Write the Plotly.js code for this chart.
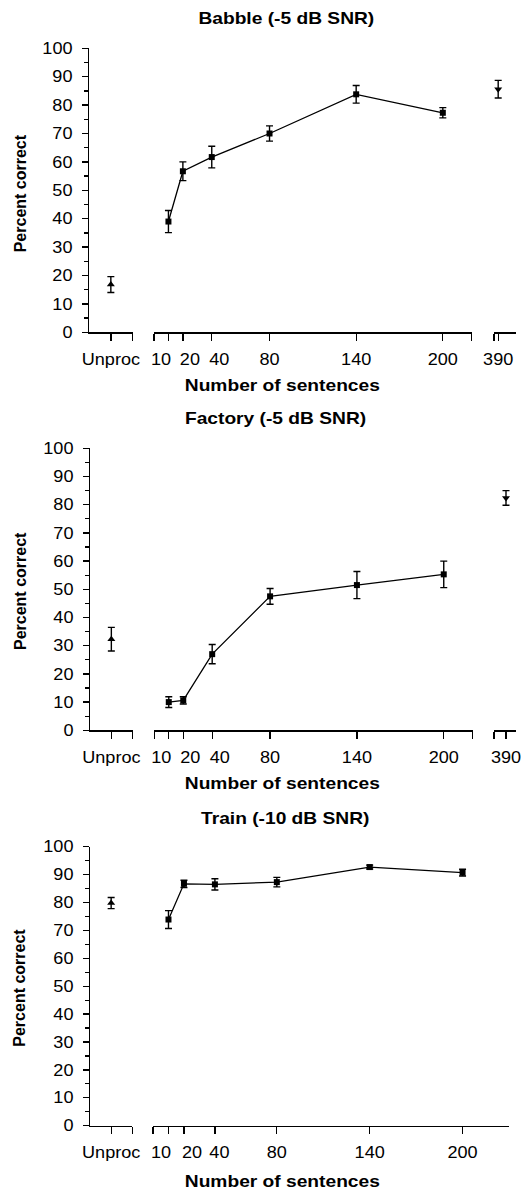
<!DOCTYPE html>
<html>
<head>
<meta charset="utf-8">
<script src="https://cdn.plot.ly/plotly-3.0.1.min.js"></script>
<style>
  html, body { margin: 0; padding: 0; background: #fff; }
  #chart { width: 521px; height: 1191px; }
</style>
</head>
<body>
<div id="chart"></div>
<script>
// ---------------- data ----------------
const panelTitles = ['Babble (-5 dB SNR)', 'Factory (-5 dB SNR)', 'Train (-10 dB SNR)'];
const xTitle = 'Number of sentences';
const yTitle = 'Percent correct';
const unprocLabel = ['Unproc'];
const unprocX = [1];
const sentences = [10, 20, 40, 80, 140, 200];
const sentenceLabels = ['10', '20', '40', '80', '140', '200'];
const fullX = [390];
const fullLabel = ['390'];

const babbleUnproc = [16.8];
const babbleUnprocErr = [2.8];
const babbleMean = [39.0, 56.7, 61.7, 70.0, 83.8, 77.3];
const babbleErr = [3.9, 3.3, 3.8, 2.7, 3.1, 1.8];
const babbleFull = [85.6];
const babbleFullErr = [3.1];

const factoryUnproc = [32.3];
const factoryUnprocErr = [4.2];
const factoryMean = [10.0, 10.6, 27.0, 47.5, 51.5, 55.3];
const factoryErr = [1.9, 1.3, 3.4, 2.8, 4.8, 4.7];
const factoryFull = [82.4];
const factoryFullErr = [2.6];

const trainUnproc = [79.8];
const trainUnprocErr = [2.0];
const trainMean = [73.9, 86.7, 86.5, 87.3, 92.7, 90.7];
const trainErr = [3.2, 1.3, 2.0, 1.7, 0.7, 1.2];

// ---------------- layout helpers ----------------
const W = 521, H = 1191;
const px = v => v / W;
const py = v => 1 - v / H;
const FONT = 'Liberation Sans, Arial, Helvetica, sans-serif';
const LW = 1.3;

function errObj(arr) {
  return { type: 'data', array: arr, visible: true, color: '#000', thickness: 1.4, width: 3.5 };
}

const traces = [];
const layout = {
  width: W, height: H,
  margin: { l: 0, r: 0, t: 0, b: 0 },
  paper_bgcolor: '#fff', plot_bgcolor: 'rgba(0,0,0,0)',
  showlegend: false,
  font: { family: FONT, size: 16, color: '#000' },
  annotations: []
};

function xAxisBase(domain, range, tickvals, ticktext, anchor) {
  return {
    domain: domain, range: range, anchor: anchor,
    showline: true, linecolor: '#000', linewidth: LW,
    ticks: 'outside', ticklen: 7, tickwidth: LW, tickcolor: '#000',
    tickmode: 'array', tickvals: tickvals, ticktext: ticktext, tickangle: 0,
    showgrid: false, zeroline: false, fixedrange: true,
    ticklabelstandoff: 5,
    tickfont: { family: FONT, size: 16, color: '#000' }
  };
}

const panels = [
  {
    unproc: babbleUnproc, unprocErr: babbleUnprocErr, mean: babbleMean, err: babbleErr,
    full: babbleFull, fullErr: babbleFullErr,
    yDom: [332.3, 48.3], xUn: [89, 132.7], xMain: [154, 471.7], mainRange: [0, 220], mainEndCap: true,
    xFull: [494, 516], fullRange: [386, 407],
    title: [286.5, 18], xt: [282.5, 385], yt: [20, 193.3]
  },
  {
    unproc: factoryUnproc, unprocErr: factoryUnprocErr, mean: factoryMean, err: factoryErr,
    full: factoryFull, fullErr: factoryFullErr,
    yDom: [730.3, 448.3], xUn: [90, 132.7], xMain: [154.3, 472.7], mainRange: [0, 220], mainEndCap: true,
    xFull: [494, 516], fullRange: [378, 400],
    title: [275.5, 418.3], xt: [282.5, 783.5], yt: [20, 591]
  },
  {
    unproc: trainUnproc, unprocErr: trainUnprocErr, mean: trainMean, err: trainErr,
    full: null, fullErr: null,
    yDom: [1125.7, 846.7], xUn: [90, 132.3], xMain: [153, 509], mainRange: [0, 230], mainEndCap: false,
    xFull: null, fullRange: null,
    title: [284.5, 818.3], xt: [282.5, 1181.7], yt: [20, 987.7]
  }
];

let xi = 1;
const labelShift = {}; // axis id -> {label: dx}
const axisIds = [];
panels.forEach((p, k) => {
  const yId = k === 0 ? 'y' : 'y' + (k + 1);
  const yKey = k === 0 ? 'yaxis' : 'yaxis' + (k + 1);
  const xu = 'x' + (xi === 1 ? '' : xi); const xuKey = 'xaxis' + (xi === 1 ? '' : xi); xi++;
  const xm = 'x' + xi; const xmKey = 'xaxis' + xi; xi++;
  let xf = null, xfKey = null;
  if (p.full) { xf = 'x' + xi; xfKey = 'xaxis' + xi; xi++; }

  layout[yKey] = {
    domain: [py(p.yDom[0]), py(p.yDom[1])], range: [0, 100], anchor: xu,
    showline: true, linecolor: '#000', linewidth: LW,
    ticks: 'outside', ticklen: 6, tickwidth: LW, tickcolor: '#000',
    tickmode: 'linear', tick0: 0, dtick: 10,
    minor: { ticks: 'outside', ticklen: 3.5, tickwidth: LW, tickcolor: '#000', dtick: 5, tick0: 0, showgrid: false },
    showgrid: false, zeroline: false, fixedrange: true,
    ticklabelstandoff: 6,
    tickfont: { family: FONT, size: 16, color: '#000' }
  };

  layout[xuKey] = xAxisBase([px(p.xUn[0]), px(p.xUn[1])], [0, 2.0001], [unprocX[0], 2], [unprocLabel[0], ''], yId);
  const mv = [p.mainRange[0]].concat(sentences);
  const mt = [''].concat(sentenceLabels);
  if (p.mainEndCap) { mv.push(p.mainRange[1]); mt.push(''); }
  layout[xmKey] = xAxisBase([px(p.xMain[0]), px(p.xMain[1])], [p.mainRange[0] - 0.001, p.mainRange[1] + 0.001], mv, mt, yId);
  if (p.full) {
    layout[xfKey] = xAxisBase([px(p.xFull[0]), px(p.xFull[1])], [p.fullRange[0] - 0.001, p.fullRange[1]], [p.fullRange[0], fullX[0]], ['', fullLabel[0]], yId);
  }
  labelShift[xm] = k === 2 ? { '10': -7.5, '20': 8, '40': 4.5 } : { '10': -7.5, '20': 7, '40': 7.5 };
  axisIds.push(xu, xm); if (xf) axisIds.push(xf);
  axisIds.push(yId);

  traces.push({
    x: unprocX, y: p.unproc, xaxis: xu, yaxis: yId, type: 'scatter', mode: 'markers',
    marker: { symbol: 'triangle-up', size: 7, color: '#000' },
    error_y: errObj(p.unprocErr), cliponaxis: false
  });
  traces.push({
    x: sentences, y: p.mean, xaxis: xm, yaxis: yId, type: 'scatter', mode: 'lines+markers',
    line: { color: '#000', width: LW },
    marker: { symbol: 'square', size: 6, color: '#000' },
    error_y: errObj(p.err), cliponaxis: false
  });
  if (p.full) {
    traces.push({
      x: fullX, y: p.full, xaxis: xf, yaxis: yId, type: 'scatter', mode: 'markers',
      marker: { symbol: 'triangle-down', size: 7, color: '#000' },
      error_y: errObj(p.fullErr), cliponaxis: false
    });
  }

  const bold = { family: FONT, size: 16, color: '#000', weight: 'bold' };
  layout.annotations.push({ text: panelTitles[k], xref: 'paper', yref: 'paper', x: px(p.title[0]), y: py(p.title[1]),
    xanchor: 'center', yanchor: 'middle', showarrow: false, font: bold });
  layout.annotations.push({ text: xTitle, xref: 'paper', yref: 'paper', x: px(p.xt[0]), y: py(p.xt[1]),
    xanchor: 'center', yanchor: 'middle', showarrow: false, font: bold });
  layout.annotations.push({ text: yTitle, xref: 'paper', yref: 'paper', x: px(p.yt[0]), y: py(p.yt[1]),
    xanchor: 'center', yanchor: 'middle', showarrow: false, textangle: -90,
    font: { family: FONT, size: 16, color: '#000', weight: 'bold' } });
});

const SVGNS = 'http://www.w3.org/2000/svg';
function stretch(el, s, anchor, dx) {
  const g = document.createElementNS(SVGNS, 'g');
  el.parentNode.insertBefore(g, el);
  g.appendChild(el);
  const bb = g.getBBox();
  const cx = anchor === 'right' ? bb.x + bb.width : bb.x + bb.width / 2;
  g.setAttribute('transform', 'translate(' + (cx + (dx || 0)) + ',0) scale(' + s + ',1) translate(' + (-cx) + ',0)');
}

Plotly.newPlot('chart', traces, layout, { staticPlot: true, displayModeBar: false }).then(gd => {
  axisIds.forEach(id => {
    const isY = id[0] === 'y';
    gd.querySelectorAll('g.' + id + 'tick text').forEach(t => {
      const txt = t.textContent;
      if (!txt) return;
      const dx = (labelShift[id] && labelShift[id][txt]) || 0;
      stretch(t, 1.13, isY ? 'right' : 'center', dx);
    });
  });
  gd.querySelectorAll('g.annotation').forEach(a => {
    const t = a.querySelector('text.annotation-text');
    if (!t) return;
    if (t.textContent === yTitle) return;
    stretch(t, 1.2, 'center', 0);
  });
});
</script>
</body>
</html>
